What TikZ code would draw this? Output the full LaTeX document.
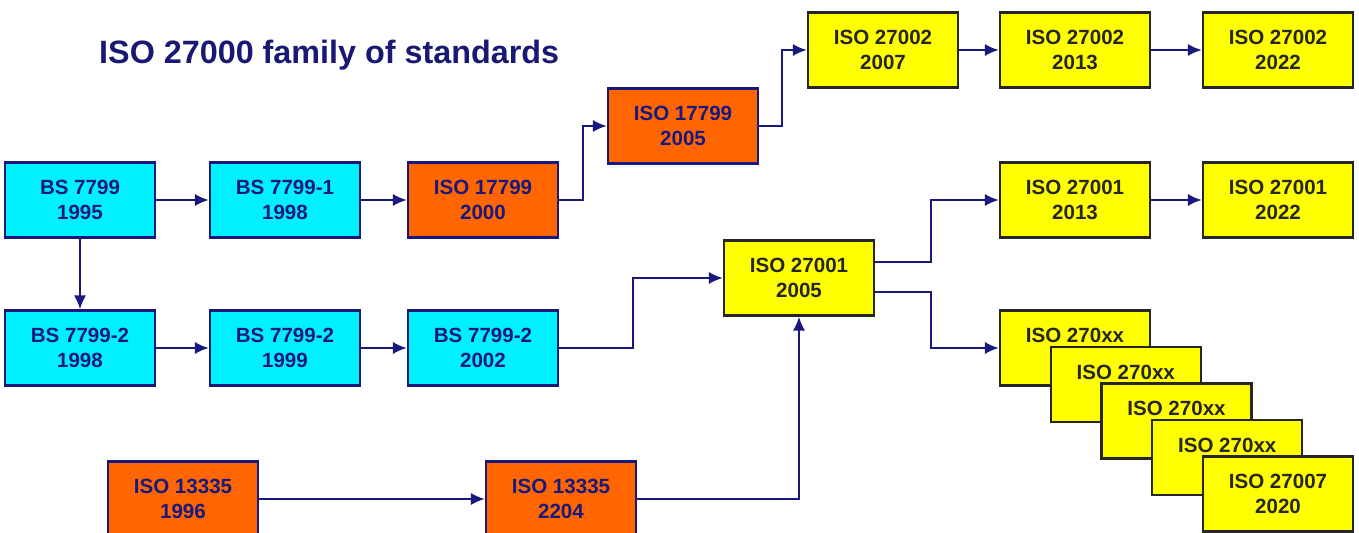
\documentclass[tikz,border=0pt]{standalone}
\usepackage{fontspec}
\setmainfont{Liberation Sans}
\usetikzlibrary{arrows.meta}

\definecolor{navyline}{RGB}{25,25,125}
\definecolor{titleblue}{RGB}{25,25,115}
\definecolor{boxcyan}{RGB}{0,240,255}
\definecolor{boxorange}{RGB}{255,102,0}
\definecolor{boxyellow}{RGB}{255,255,0}

\begin{document}
\begin{tikzpicture}[x=0.02cm, y=-0.02cm,
	stdbox/.style={draw, line width=1.3pt, minimum width=3cm, minimum height=1.5cm, align=center, inner sep=0pt, font=\fontsize{11.7}{14.2}\selectfont\bfseries},
	bsbox/.style={stdbox, fill=boxcyan, draw=navyline, text=navyline},
	oldiso/.style={stdbox, fill=boxorange, draw=navyline, text=navyline},
	newiso/.style={stdbox, fill=boxyellow, draw=black!85, text=black!85},
	link/.style={line width=1.2pt, navyline, -{Latex[length=8pt,width=7pt]}}]
	\useasboundingbox[fill=white] (0,0) rectangle (1359,533);
	\node[anchor=base west, text=titleblue, font=\fontsize{18.4}{22}\selectfont\bfseries] (title) at (93,64) {ISO 27000 family of standards};
	% BS 7799 line
	\node[bsbox] (bs95) at (80,200) {BS 7799\\1995};
	\node[bsbox] (bs1) at (285,200) {BS 7799-1\\1998};
	\node[bsbox] (bs2a) at (80,348) {BS 7799-2\\1998};
	\node[bsbox] (bs2b) at (285,348) {BS 7799-2\\1999};
	\node[bsbox] (bs2c) at (483,348) {BS 7799-2\\2002};
	% old ISO
	\node[oldiso] (i17a) at (483,200) {ISO 17799\\2000};
	\node[oldiso] (i17b) at (683,126) {ISO 17799\\2005};
	\node[oldiso] (i13a) at (183,499) {ISO 13335\\1996};
	\node[oldiso] (i13b) at (561,499) {ISO 13335\\2204};
	% ISO 27000 family
	\node[newiso] (i02a) at (883,50) {ISO 27002\\2007};
	\node[newiso] (i02b) at (1075,50) {ISO 27002\\2013};
	\node[newiso] (i02c) at (1278,50) {ISO 27002\\2022};
	\node[newiso] (i01a) at (799,278) {ISO 27001\\2005};
	\node[newiso] (i01b) at (1075,200) {ISO 27001\\2013};
	\node[newiso] (i01c) at (1278,200) {ISO 27001\\2022};
	\foreach \k in {0,...,3}
		\node[newiso] (ixx\k) at (1075+50.75*\k,348+36.5*\k) {ISO 270xx\\\phantom{2020}};
	\node[newiso] (i07) at (1278,494) {ISO 27007\\2020};
	% links
	\draw[link] (bs95) -- (bs1);
	\draw[link] (bs1) -- (i17a);
	\draw[link] (i17a.east) -- ++(24,0) |- (i17b.west);
	\draw[link] (i17b.east) -- ++(23,0) |- (i02a.west);
	\draw[link] (i02a) -- (i02b);
	\draw[link] (i02b) -- (i02c);
	\draw[link] (bs95) -- (bs2a);
	\draw[link] (bs2a) -- (bs2b);
	\draw[link] (bs2b) -- (bs2c);
	\draw[link] (bs2c.east) -- ++(74,0) |- (i01a.west);
	\draw[link] (i13a) -- (i13b);
	\draw[link] (i13b.east) -| (i01a.south);
	\draw[link] ([yshift=9pt]i01a.east) -- ++(56,0) |- (i01b.west);
	\draw[link] ([yshift=-8pt]i01a.east) -- ++(56,0) |- (ixx0.west);
	\draw[link] (i01b) -- (i01c);
\end{tikzpicture}
\end{document}
